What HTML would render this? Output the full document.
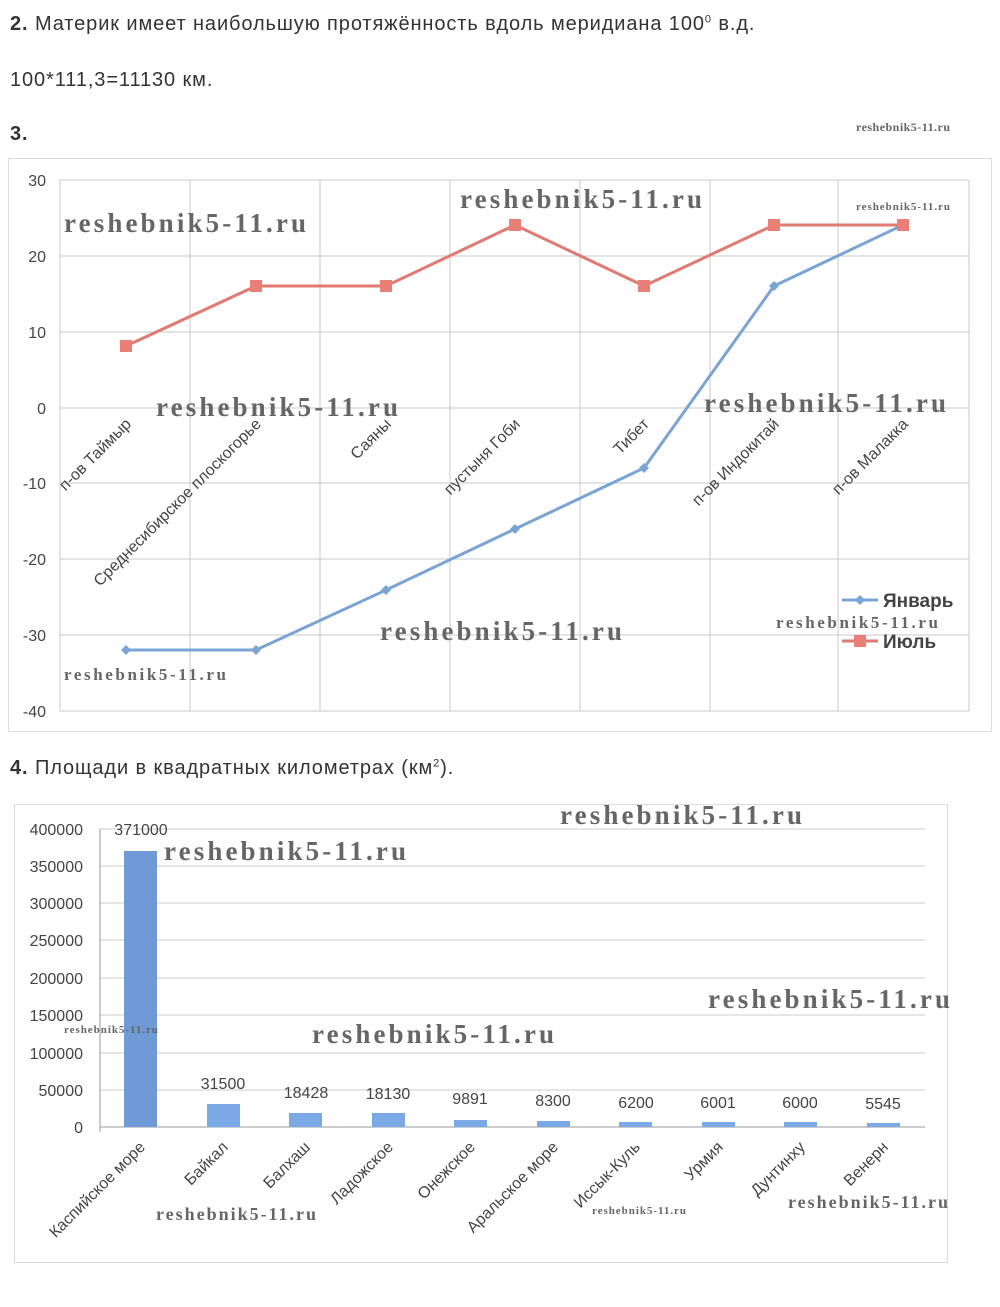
<!DOCTYPE html>
<html><head><meta charset="utf-8"><style>
body{margin:0;background:#fff;width:1000px;height:1307px;overflow:hidden;font-family:"Liberation Sans","DejaVu Sans",sans-serif;}
.t{position:absolute;left:10px;font-size:20px;letter-spacing:0.9px;color:#333;}
svg{position:absolute;left:0;top:0}
.wm{font-family:"Liberation Serif",serif;font-weight:bold;fill:#666;}
</style></head><body>
<div class="t" style="top:13px"><b>2.</b> Материк имеет наибольшую протяжённость вдоль меридиана 100<sup style="font-size:11px">0</sup> в.д.</div>
<div class="t" style="top:69px">100*111,3=11130 км.</div>
<div class="t" style="top:123px"><b>3.</b></div>
<div class="t" style="top:757px"><b>4.</b> Площади в квадратных километрах (км<sup style="font-size:11px">2</sup>).</div>
<svg width="1000" height="1307" viewBox="0 0 1000 1307">
<text x="856" y="131" class="wm" font-size="12" textLength="94">reshebnik5-11.ru</text>
<rect x="8.5" y="158.5" width="983" height="573" fill="#fff" stroke="#ddd"/>
<g stroke="#c8c8c8" stroke-width="1">
<line x1="60" y1="180" x2="969" y2="180"/><line x1="60" y1="256" x2="969" y2="256"/><line x1="60" y1="332" x2="969" y2="332"/><line x1="60" y1="408" x2="969" y2="408"/><line x1="60" y1="483" x2="969" y2="483"/><line x1="60" y1="559" x2="969" y2="559"/><line x1="60" y1="635" x2="969" y2="635"/><line x1="60" y1="711" x2="969" y2="711"/>
<line x1="60" y1="180" x2="60" y2="711"/><line x1="190" y1="180" x2="190" y2="711"/><line x1="320" y1="180" x2="320" y2="711"/><line x1="450" y1="180" x2="450" y2="711"/><line x1="580" y1="180" x2="580" y2="711"/><line x1="710" y1="180" x2="710" y2="711"/><line x1="838" y1="180" x2="838" y2="711"/><line x1="969" y1="180" x2="969" y2="711"/>
</g>
<g font-size="16" fill="#444" text-anchor="end">
<text x="46" y="186">30</text><text x="46" y="262">20</text><text x="46" y="338">10</text><text x="46" y="414">0</text><text x="46" y="489">-10</text><text x="46" y="565">-20</text><text x="46" y="641">-30</text><text x="46" y="717">-40</text>
</g>
<g font-size="16" fill="#444" text-anchor="end">
<text transform="translate(132,425) rotate(-45)">п-ов Таймыр</text>
<text transform="translate(262,425) rotate(-45)">Среднесибирское плоскогорье</text>
<text transform="translate(392,425) rotate(-45)">Саяны</text>
<text transform="translate(521,425) rotate(-45)">пустыня Гоби</text>
<text transform="translate(650,425) rotate(-45)">Тибет</text>
<text transform="translate(780,425) rotate(-45)">п-ов Индокитай</text>
<text transform="translate(909,425) rotate(-45)">п-ов Малакка</text>
</g>
<polyline points="126,650 256,650 386,590 515,529 644,468 774,286 903,225" fill="none" stroke="#7aa4d4" stroke-width="3"/>
<g fill="#7aa4d4"><path d="M126,645l5,5-5,5-5-5z"/><path d="M256,645l5,5-5,5-5-5z"/><path d="M386,585l5,5-5,5-5-5z"/><path d="M515,524l5,5-5,5-5-5z"/><path d="M644,463l5,5-5,5-5-5z"/><path d="M774,281l5,5-5,5-5-5z"/><path d="M903,220l5,5-5,5-5-5z"/></g>
<polyline points="126,346 256,286 386,286 515,225 644,286 774,225 903,225" fill="none" stroke="#e07a72" stroke-width="3"/>
<g fill="#e97f77"><rect x="120" y="340" width="12" height="12"/><rect x="250" y="280" width="12" height="12"/><rect x="380" y="280" width="12" height="12"/><rect x="509" y="219" width="12" height="12"/><rect x="638" y="280" width="12" height="12"/><rect x="768" y="219" width="12" height="12"/><rect x="897" y="219" width="12" height="12"/></g>
<line x1="842" y1="600" x2="878" y2="600" stroke="#7aa4d4" stroke-width="3"/><path d="M860,595l5,5-5,5-5-5z" fill="#7aa4d4"/>
<text x="883" y="607" font-size="19" font-weight="bold" fill="#444">Январь</text>
<line x1="842" y1="641" x2="878" y2="641" stroke="#e07a72" stroke-width="3"/><rect x="854" y="635" width="12" height="12" fill="#e97f77"/>
<text x="883" y="648" font-size="19" font-weight="bold" fill="#444">Июль</text>
<g class="wm" font-size="27">
<text x="64" y="232" textLength="242">reshebnik5-11.ru</text><text x="460" y="208" textLength="242">reshebnik5-11.ru</text><text x="156" y="416" textLength="242">reshebnik5-11.ru</text><text x="704" y="412" textLength="242">reshebnik5-11.ru</text><text x="380" y="640" textLength="242">reshebnik5-11.ru</text>
</g>
<text x="856" y="210" class="wm" font-size="11" textLength="94">reshebnik5-11.ru</text>
<text x="776" y="628" class="wm" font-size="17" textLength="162">reshebnik5-11.ru</text>
<text x="64" y="680" class="wm" font-size="17" textLength="162">reshebnik5-11.ru</text>

<rect x="14.5" y="804.5" width="933" height="458" fill="#fff" stroke="#ddd"/>
<g stroke="#ccc"><line x1="100" y1="829" x2="925" y2="829"/><line x1="100" y1="866" x2="925" y2="866"/><line x1="100" y1="903" x2="925" y2="903"/><line x1="100" y1="940" x2="925" y2="940"/><line x1="100" y1="978" x2="925" y2="978"/><line x1="100" y1="1015" x2="925" y2="1015"/><line x1="100" y1="1053" x2="925" y2="1053"/><line x1="100" y1="1090" x2="925" y2="1090"/><line x1="100" y1="1127" x2="925" y2="1127" stroke="#999"/><line x1="100" y1="829" x2="100" y2="1132" stroke="#999"/></g>
<g font-size="16" fill="#444" text-anchor="end">
<text x="83" y="835">400000</text><text x="83" y="872">350000</text><text x="83" y="909">300000</text><text x="83" y="946">250000</text><text x="83" y="984">200000</text><text x="83" y="1021">150000</text><text x="83" y="1059">100000</text><text x="83" y="1096">50000</text><text x="83" y="1133">0</text>
</g>
<g fill="#7aa9e6">
<rect x="124" y="851" width="33" height="276" fill="#6f9ad6"/>
<rect x="207" y="1104" width="33" height="23"/><rect x="289" y="1113" width="33" height="14"/><rect x="372" y="1113" width="33" height="14"/><rect x="454" y="1120" width="33" height="7"/><rect x="537" y="1121" width="33" height="6"/><rect x="619" y="1122" width="33" height="5"/><rect x="702" y="1122" width="33" height="5"/><rect x="784" y="1122" width="33" height="5"/><rect x="867" y="1123" width="33" height="4"/>
</g>
<g font-size="16" fill="#444" text-anchor="middle">
<text x="141" y="835">371000</text><text x="223" y="1089">31500</text><text x="306" y="1098">18428</text><text x="388" y="1099">18130</text><text x="470" y="1104">9891</text><text x="553" y="1106">8300</text><text x="636" y="1108">6200</text><text x="718" y="1108">6001</text><text x="800" y="1108">6000</text><text x="883" y="1109">5545</text>
</g>
<g font-size="16" fill="#444" text-anchor="end">
<text transform="translate(146,1148) rotate(-45)">Каспийское море</text>
<text transform="translate(229,1148) rotate(-45)">Байкал</text>
<text transform="translate(311,1148) rotate(-45)">Балхаш</text>
<text transform="translate(394,1148) rotate(-45)">Ладожское</text>
<text transform="translate(476,1148) rotate(-45)">Онежское</text>
<text transform="translate(559,1148) rotate(-45)">Аральское море</text>
<text transform="translate(641,1148) rotate(-45)">Иссык-Куль</text>
<text transform="translate(724,1148) rotate(-45)">Урмия</text>
<text transform="translate(806,1148) rotate(-45)">Дунтинху</text>
<text transform="translate(889,1148) rotate(-45)">Венерн</text>
</g>
<g class="wm" font-size="27">
<text x="560" y="824" textLength="242">reshebnik5-11.ru</text><text x="164" y="860" textLength="242">reshebnik5-11.ru</text><text x="708" y="1008" textLength="242">reshebnik5-11.ru</text><text x="312" y="1043" textLength="242">reshebnik5-11.ru</text>
</g>
<text x="64" y="1033" class="wm" font-size="11" textLength="94">reshebnik5-11.ru</text>
<text x="156" y="1220" class="wm" font-size="18" textLength="160">reshebnik5-11.ru</text>
<text x="592" y="1214" class="wm" font-size="11" textLength="94">reshebnik5-11.ru</text>
<text x="788" y="1208" class="wm" font-size="18" textLength="160">reshebnik5-11.ru</text>
</svg>
</body></html>
